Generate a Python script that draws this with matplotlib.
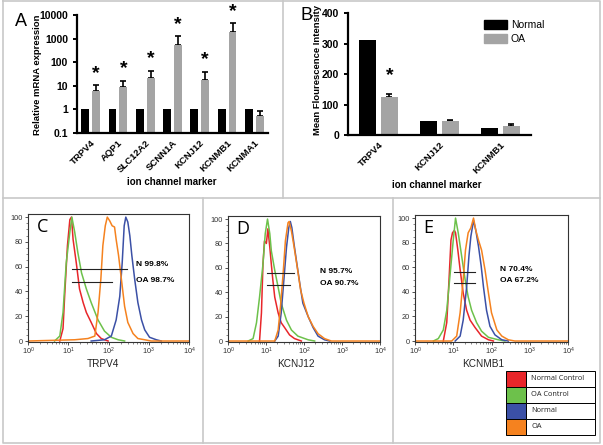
import numpy as np
import matplotlib
matplotlib.use('Agg')
import matplotlib.pyplot as plt
from matplotlib.patches import Rectangle, Patch

plt.rcParams['font.family'] = ['Liberation Sans', 'DejaVu Sans']

# ---------------- Panel A data ----------------
genes_a = ['TRPV4', 'AQP1', 'SLC12A2', 'SCNN1A', 'KCNJ12', 'KCNMB1', 'KCNMA1']
normal_a = [1, 1, 1, 1, 1, 1, 1]
oa_a = [6.2, 8.7, 21, 540, 18, 1850, 0.52]
oa_a_errtop = [10.7, 16.6, 44, 1290, 40, 4450, 0.88]
sig_a = [True, True, True, True, True, True, False]
yticks_a = [0.1, 1, 10, 100, 1000, 10000]
yticklabels_a = ['0.1', '1', '10', '100', '1000', '10000']

# ---------------- Panel B data ----------------
genes_b = ['TRPV4', 'KCNJ12', 'KCNMB1']
normal_b = [310, 47, 24]
oa_b = [126, 45, 31]
oa_b_errtop = [134, 50, 37]
sig_b = [True, False, False]
groups_b = ['Normal', 'OA']

# ---------------- Flow histograms (log10 intensity, % of max) ----------------
c_red_x = [0.79, 0.87, 0.91, 0.98, 1.04, 1.08, 1.12, 1.20, 1.28, 1.37, 1.45, 1.57, 1.70, 1.82, 1.99]
c_red_y = [0, 10, 36, 77, 98, 100, 82, 63, 42, 31, 23, 15, 6, 2, 0]
c_green_x = [0.66, 0.79, 0.87, 0.95, 1.04, 1.09, 1.16, 1.24, 1.33, 1.45, 1.57, 1.74, 1.90, 2.07, 2.24, 2.40]
c_green_y = [0, 4, 23, 63, 88, 100, 88, 71, 55, 42, 31, 17, 8, 3, 1, 0]
c_blue_x = [1.57, 1.90, 2.07, 2.19, 2.28, 2.34, 2.39, 2.43, 2.48, 2.53, 2.58, 2.65, 2.73, 2.82, 2.90, 3.02, 3.19, 3.31]
c_blue_y = [0, 1, 4, 17, 36, 63, 93, 100, 96, 85, 69, 50, 31, 17, 9, 3, 1, 0]
c_orange_x = [0.0, 1.16, 1.49, 1.66, 1.74, 1.81, 1.86, 1.92, 1.97, 2.03, 2.09, 2.15, 2.19, 2.25, 2.32, 2.40, 2.48, 2.61, 2.73, 2.90, 3.06, 4.0]
c_orange_y = [0, 1, 2, 4, 23, 50, 77, 93, 100, 97, 93, 92, 82, 69, 50, 28, 15, 6, 2, 1, 0, 0]

d_red_x = [0.83, 0.88, 0.92, 0.96, 1.01, 1.05, 1.10, 1.14, 1.18, 1.23, 1.32, 1.40, 1.49, 1.62, 1.75, 1.93]
d_red_y = [0, 23, 63, 82, 80, 92, 77, 63, 50, 36, 23, 15, 11, 5, 2, 0]
d_green_x = [0.53, 0.66, 0.75, 0.83, 0.92, 0.98, 1.04, 1.10, 1.14, 1.23, 1.32, 1.40, 1.54, 1.67, 1.84, 2.11, 2.28]
d_green_y = [0, 2, 15, 36, 63, 88, 100, 88, 74, 58, 44, 31, 17, 9, 4, 1, 0]
d_blue_x = [1.23, 1.32, 1.40, 1.47, 1.54, 1.60, 1.64, 1.68, 1.74, 1.80, 1.89, 1.97, 2.11, 2.24, 2.37, 2.54, 2.68]
d_blue_y = [0, 4, 23, 50, 77, 93, 98, 93, 79, 66, 47, 31, 20, 11, 4, 1, 0]
d_orange_x = [0.0, 1.23, 1.32, 1.38, 1.45, 1.51, 1.58, 1.61, 1.67, 1.74, 1.82, 1.91, 2.00, 2.11, 2.24, 2.37, 2.54, 2.72, 4.0]
d_orange_y = [0, 0, 9, 28, 55, 82, 97, 98, 90, 77, 61, 42, 31, 20, 12, 6, 2, 0, 0]

e_red_x = [0.74, 0.83, 0.89, 0.94, 0.98, 1.03, 1.06, 1.12, 1.18, 1.26, 1.35, 1.44, 1.57, 1.74, 1.92, 2.05]
e_red_y = [0, 15, 50, 82, 88, 90, 88, 74, 58, 39, 25, 17, 11, 4, 1, 0]
e_green_x = [0.48, 0.61, 0.74, 0.83, 0.92, 1.00, 1.06, 1.13, 1.22, 1.31, 1.39, 1.48, 1.61, 1.74, 1.92, 2.18, 2.35]
e_green_y = [0, 2, 9, 25, 55, 82, 100, 88, 69, 50, 36, 25, 15, 8, 3, 1, 0]
e_blue_x = [1.05, 1.18, 1.26, 1.35, 1.41, 1.46, 1.53, 1.59, 1.66, 1.73, 1.79, 1.87, 1.96, 2.09, 2.27, 2.44]
e_blue_y = [0, 4, 17, 44, 69, 85, 98, 90, 77, 61, 44, 25, 12, 5, 1, 0]
e_orange_x = [0.0, 0.96, 1.09, 1.18, 1.26, 1.32, 1.39, 1.46, 1.53, 1.59, 1.66, 1.74, 1.83, 1.92, 2.00, 2.14, 2.27, 2.44, 2.61, 4.0]
e_orange_y = [0, 0, 4, 23, 50, 74, 88, 92, 100, 90, 82, 74, 58, 39, 23, 9, 4, 1, 0, 0]

flow_markers = ['TRPV4', 'KCNJ12', 'KCNMB1']
flow_letters = ['C', 'D', 'E']
pct_normal = ['N 99.8%', 'N 95.7%', 'N 70.4%']
pct_oa = ['OA 98.7%', 'OA 90.7%', 'OA 67.2%']
gate_n = [(1.10, 2.47, 58), (1.03, 1.73, 56), (1.02, 1.58, 56)]
gate_oa = [(1.10, 2.09, 47.5), (1.03, 1.63, 46), (1.02, 1.58, 47)]
text_pos = [(2.68, 62, 49), (2.42, 57, 47), (2.22, 58, 49)]

legend_labels = ['Normal Control', 'OA Control', 'Normal', 'OA']
legend_colors = ['#e8262a', '#6dc14b', '#3b50a6', '#f5821f']

W, H = 603, 445
fig = plt.figure(figsize=(W / 100, H / 100), dpi=100)

def fx(px):
    return px / W

def fy(py):
    return 1 - py / H

# background panel borders
bg = fig.add_axes([0, 0, 1, 1], zorder=-5)
bg.set_xlim(0, W)
bg.set_ylim(H, 0)
bg.axis('off')
bcol = '#c8c8c8'
bg.plot([2.5, 599.5, 599.5, 2.5, 2.5], [0.8, 0.8, 443, 443, 0.8], color=bcol, lw=1.2)
bg.plot([2.5, 599.5], [198, 198], color=bcol, lw=1.2)
bg.plot([283, 283], [0.8, 198], color=bcol, lw=1.2)
bg.plot([203, 203], [198, 443], color=bcol, lw=1.2)
bg.plot([393, 393], [198, 443], color=bcol, lw=1.2)

gray = '#a4a4a4'

def prism_style(ax):
    for s in ['top', 'right']:
        ax.spines[s].set_visible(False)
    for s in ['left', 'bottom']:
        ax.spines[s].set_linewidth(1.6)
    ax.tick_params(axis='both', which='major', direction='out', length=3, width=1.4)
    ax.tick_params(axis='x', length=0)
    ax.tick_params(axis='both', which='minor', length=0)

# ---------------- Panel A ----------------
axA = fig.add_axes([fx(77), fy(133), fx(268 - 77), (133 - 15) / H])
xa = np.arange(len(genes_a))
bw = 0.29
axA.bar(xa - 0.2, normal_a, width=bw, color='black', zorder=2)
axA.bar(xa + 0.2, oa_a, width=bw, color=gray, zorder=2)
up = np.array(oa_a_errtop) - np.array(oa_a)
axA.errorbar(xa + 0.2, oa_a, yerr=[np.zeros(len(xa)), up], fmt='none', ecolor='black',
             elinewidth=1.2, capsize=2.5, capthick=1.2, zorder=1)
axA.set_yscale('log')
axA.set_ylim(0.1, 10000)
axA.set_xlim(-0.5, len(genes_a) - 0.5)
axA.set_yticks(yticks_a)
axA.set_yticklabels(yticklabels_a, fontsize=7.5, fontweight='bold')
axA.set_xticks(xa)
axA.set_xticklabels(genes_a, rotation=45, ha='right', rotation_mode='anchor',
                    fontsize=6.8, fontweight='bold')
prism_style(axA)
for i, s in enumerate(sig_a):
    if s:
        axA.text(xa[i] + 0.2, oa_a_errtop[i] * 1.35, '*', ha='center', va='bottom',
                 fontsize=14, fontweight='bold')
fig.text(fx(37), fy(75), 'Relative mRNA expression', rotation=90, ha='center', va='center',
         fontsize=6.8, fontweight='bold')
fig.text(fx(172), fy(182), 'ion channel marker', ha='center', va='center', fontsize=7,
         fontweight='bold')
fig.text(fx(21), fy(21), 'A', ha='center', va='center', fontsize=13)

# ---------------- Panel B ----------------
axB = fig.add_axes([fx(348), fy(135), fx(531 - 348), (135 - 13) / H])
xb = np.arange(len(genes_b))
axB.bar(xb - 0.18, normal_b, width=bw, color='black', label=groups_b[0], zorder=2)
axB.bar(xb + 0.18, oa_b, width=bw, color=gray, label=groups_b[1], zorder=2)
upb = np.array(oa_b_errtop) - np.array(oa_b)
axB.errorbar(xb + 0.18, oa_b, yerr=[np.zeros(len(xb)), upb], fmt='none', ecolor='black',
             elinewidth=1.2, capsize=2.5, capthick=1.2, zorder=1)
axB.set_ylim(0, 400)
axB.set_xlim(-0.5, len(genes_b) - 0.5)
axB.set_yticks([0, 100, 200, 300, 400])
axB.set_yticklabels(['0', '100', '200', '300', '400'], fontsize=7.5, fontweight='bold')
axB.set_xticks(xb)
axB.set_xticklabels(genes_b, rotation=45, ha='right', rotation_mode='anchor',
                    fontsize=6.8, fontweight='bold')
prism_style(axB)
for i, s in enumerate(sig_b):
    if s:
        axB.text(xb[i] + 0.18, oa_b_errtop[i] + 32, '*', ha='center', va='bottom',
                 fontsize=14, fontweight='bold')
axB.legend(handles=[Patch(color='black'), Patch(color=gray)], labels=groups_b,
           loc='upper left', bbox_to_anchor=(0.69, 1.02), frameon=False, fontsize=7.5,
           handlelength=2.2, handleheight=1.0, labelspacing=0.35, handletextpad=0.4)
fig.text(fx(317), fy(70), 'Mean Flourescence Intensity', rotation=90, ha='center',
         va='center', fontsize=6.8, fontweight='bold')
fig.text(fx(437), fy(185), 'ion channel marker', ha='center', va='center', fontsize=7,
         fontweight='bold')
fig.text(fx(306), fy(16), 'B', ha='center', va='center', fontsize=13)

# ---------------- Panels C, D, E ----------------
panel_boxes = [(28, 189, 214), (228, 380, 216), (415, 568, 215)]
xlabel_centers = [103, 296, 483]
curves = [
    [(c_red_x, c_red_y), (c_green_x, c_green_y), (c_blue_x, c_blue_y), (c_orange_x, c_orange_y)],
    [(d_red_x, d_red_y), (d_green_x, d_green_y), (d_blue_x, d_blue_y), (d_orange_x, d_orange_y)],
    [(e_red_x, e_red_y), (e_green_x, e_green_y), (e_blue_x, e_blue_y), (e_orange_x, e_orange_y)],
]
for k in range(3):
    l, r, t = panel_boxes[k]
    ax = fig.add_axes([fx(l), fy(342), fx(r - l), (342 - t) / H])
    for (cx, cy), col in zip(curves[k], legend_colors):
        ax.plot(10 ** np.array(cx), cy, color=col, lw=1.1)
    ax.set_xscale('log')
    ax.set_xlim(1, 1e4)
    ax.set_ylim(-0.8, 102.5)
    ax.set_yticks([0, 20, 40, 60, 80, 100])
    ax.set_yticks(np.arange(0, 101, 5), minor=True)
    ax.tick_params(axis='both', which='major', labelsize=5.3, length=2.5, width=0.6,
                   direction='out', colors='#333333', pad=1.2)
    ax.tick_params(axis='x', which='major', pad=0.5)
    ax.tick_params(axis='both', which='minor', length=1.3, width=0.5, direction='out',
                   colors='#555555')
    for s in ax.spines.values():
        s.set_linewidth(0.8)
        s.set_color('#333333')
    g1 = gate_n[k]
    g2 = gate_oa[k]
    ax.plot([10 ** g1[0], 10 ** g1[1]], [g1[2], g1[2]], color='#222222', lw=0.8)
    ax.plot([10 ** g2[0], 10 ** g2[1]], [g2[2], g2[2]], color='#222222', lw=0.8)
    tx, ty1, ty2 = text_pos[k]
    ax.text(10 ** tx, ty1, pct_normal[k], fontsize=6, fontweight='bold', ha='left', va='center')
    ax.text(10 ** tx, ty2, pct_oa[k], fontsize=6, fontweight='bold', ha='left', va='center')
    ax.text(0.055, 0.965, flow_letters[k], transform=ax.transAxes, fontsize=13, ha='left',
            va='top', family=['Open Sans', 'DejaVu Sans'])
    fig.text(fx(xlabel_centers[k]), fy(364), flow_markers[k], ha='center', va='center',
             fontsize=7.2, color='#222222')

# ---------------- Legend table ----------------
axL = fig.add_axes([fx(506), fy(435), fx(595 - 506), (435 - 371) / H])
axL.set_xlim(0, 1)
axL.set_ylim(len(legend_labels), 0)
axL.axis('off')
sw = (526 - 506) / (595 - 506)
for i, (lab, col) in enumerate(zip(legend_labels, legend_colors)):
    axL.add_patch(Rectangle((0, i), sw, 1, facecolor=col, edgecolor='black', lw=0.7,
                            clip_on=False))
    axL.add_patch(Rectangle((sw, i), 1 - sw, 1, facecolor='white', edgecolor='black', lw=0.7,
                            clip_on=False))
    axL.text(sw + 0.06, i + 0.5, lab, fontsize=5.3, va='center', ha='left', color='#222222',
             family=['Open Sans', 'DejaVu Sans'])

fig.savefig('out.png', dpi=100)
